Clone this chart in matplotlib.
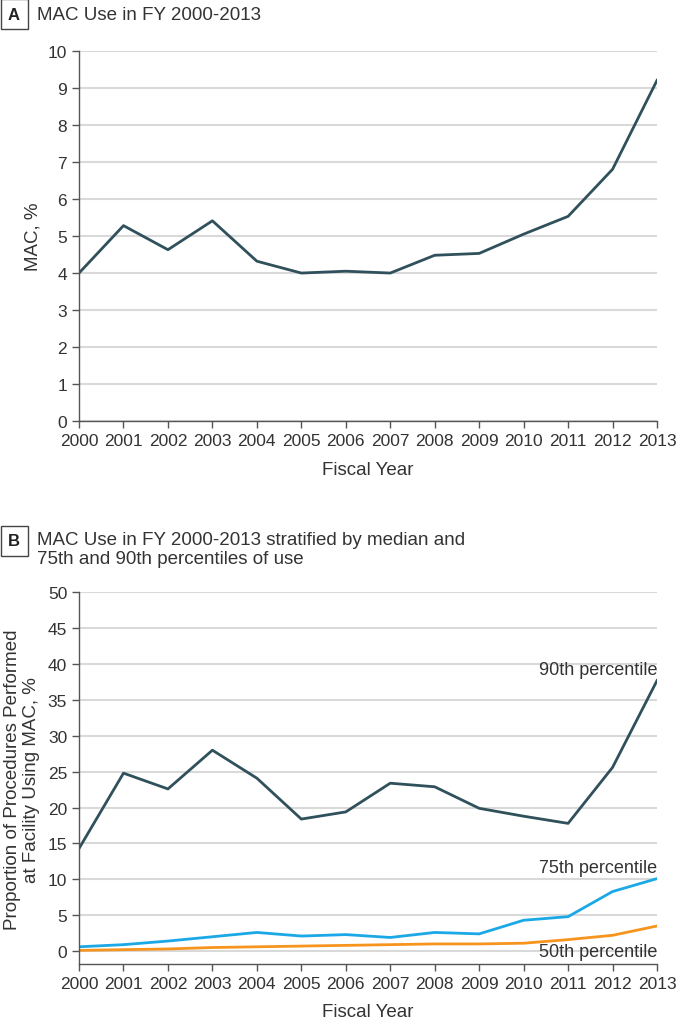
import matplotlib
matplotlib.use('Agg')
import matplotlib.pyplot as plt

years = list(range(2000, 2014))
mac_use = [4.0, 5.28, 4.63, 5.41, 4.32, 4.0, 4.05, 4.0, 4.48, 4.53, 5.05, 5.53, 6.8, 9.2]
p90 = [14.3, 24.8, 22.6, 28.0, 24.1, 18.4, 19.4, 23.4, 22.9, 19.9, 18.8, 17.8, 25.6, 37.7]
p75 = [0.6, 0.9, 1.4, 2.0, 2.6, 2.1, 2.3, 1.9, 2.6, 2.4, 4.3, 4.8, 8.3, 10.1]
p50 = [0.1, 0.2, 0.3, 0.5, 0.6, 0.7, 0.8, 0.9, 1.0, 1.0, 1.1, 1.6, 2.2, 3.5]
series_labels = ['90th percentile', '75th percentile', '50th percentile']

plt.rcParams['font.family'] = ['Liberation Sans', 'DejaVu Sans']

dark = '#30505b'
blue = '#1ba8e6'
orange = '#f7941d'
grid_c = '#d9d9d9'
txt = '#333333'

fig = plt.figure(figsize=(6.76, 10.2), dpi=100)
axA = fig.add_axes([0.1169, 0.586, 0.855, 0.3633])
axB = fig.add_axes([0.1169, 0.0539, 0.855, 0.3644])


def style(ax):
    for s in ['top', 'right']:
        ax.spines[s].set_visible(False)
    for s in ['left', 'bottom']:
        ax.spines[s].set_color('#555555')
        ax.spines[s].set_linewidth(1.0)
    ax.set_xlim(2000, 2013)
    ax.set_xticks(years)
    ax.tick_params(axis='both', labelsize=12.5, colors='#555555', labelcolor=txt, length=5, width=1)
    ax.yaxis.grid(True, color=grid_c, linewidth=1.5)
    ax.set_axisbelow(True)
    ax.set_xlabel('Fiscal Year', fontsize=13.5, color=txt, labelpad=9)


# panel A
axA.plot(years, mac_use, color=dark, linewidth=2)
axA.set_ylim(0, 10)
axA.set_yticks(range(0, 11))
style(axA)
fig.text(33 / 676, 1 - 237 / 1020, 'MAC, %', rotation=90, ha='center', va='center', fontsize=13.5, color=txt)

# panel B
axB.plot(years, p90, color=dark, linewidth=2)
axB.plot(years, p75, color=blue, linewidth=2)
axB.plot(years, p50, color=orange, linewidth=2)
axB.set_ylim(-1.8, 50)
axB.set_yticks(range(0, 51, 5))
style(axB)
fig.text(22 / 676, 1 - 780 / 1020, 'Proportion of Procedures Performed\nat Facility Using MAC, %',
         rotation=90, ha='center', va='center', fontsize=13.5, color=txt, linespacing=1.1)

axB.text(2013, 39.3, series_labels[0], ha='right', va='center', fontsize=13, color=txt)
axB.text(2013, 11.6, series_labels[1], ha='right', va='center', fontsize=13, color=txt)
axB.text(2013, -0.1, series_labels[2], ha='right', va='center', fontsize=13, color=txt)

# panel headers
fig.text(14 / 676, 1 - 15 / 1020, 'A', fontsize=12, fontweight='bold', color='#222222', ha='center', va='center',
         bbox=dict(boxstyle='square,pad=0.45', facecolor='white', edgecolor='#444444', linewidth=1))
fig.text(37 / 676, 1 - 15 / 1020, 'MAC Use in FY 2000-2013', fontsize=13.5, color=txt, ha='left', va='center')
fig.text(14 / 676, 1 - 542 / 1020, 'B', fontsize=12, fontweight='bold', color='#222222', ha='center', va='center',
         bbox=dict(boxstyle='square,pad=0.45', facecolor='white', edgecolor='#444444', linewidth=1))
fig.text(37 / 676, 1 - 550 / 1020, 'MAC Use in FY 2000-2013 stratified by median and\n75th and 90th percentiles of use',
         fontsize=13.5, color=txt, ha='left', va='center', linespacing=1.15)

fig.savefig('out.png', dpi=100)
